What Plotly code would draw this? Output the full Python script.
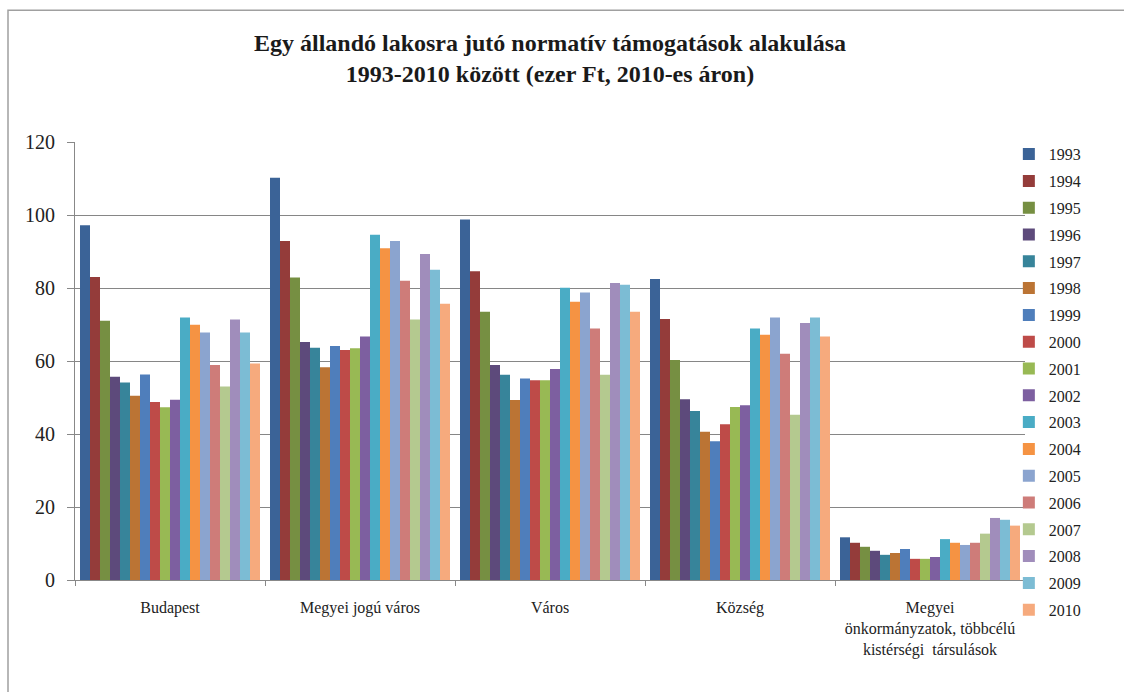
import plotly.graph_objects as go

categories = [
    "Budapest",
    "Megyei jogú város",
    "Város",
    "Község",
    "Megyei<br>önkormányzatok, többcélú<br>kistérségi  társulások",
]

years = [str(y) for y in range(1993, 2011)]

# values per year, in category order
values = {
    "1993": [97.2, 110.2, 98.8, 82.5, 11.7],
    "1994": [83.0, 92.9, 84.6, 71.5, 10.2],
    "1995": [71.0, 82.9, 73.5, 60.3, 9.1],
    "1996": [55.7, 65.2, 58.9, 49.5, 8.0],
    "1997": [54.1, 63.6, 56.2, 46.3, 6.9],
    "1998": [50.5, 58.3, 49.3, 40.6, 7.4],
    "1999": [56.3, 64.1, 55.2, 38.0, 8.5],
    "2000": [48.8, 63.0, 54.7, 42.7, 5.8],
    "2001": [47.3, 63.5, 54.7, 47.4, 5.8],
    "2002": [49.4, 66.7, 57.8, 47.9, 6.3],
    "2003": [71.9, 94.6, 80.1, 68.9, 11.2],
    "2004": [69.9, 90.9, 76.2, 67.2, 10.2],
    "2005": [67.8, 92.9, 78.8, 71.9, 9.6],
    "2006": [58.9, 82.0, 68.9, 62.0, 10.2],
    "2007": [53.0, 71.4, 56.2, 45.3, 12.7],
    "2008": [71.4, 89.3, 81.4, 70.4, 17.0],
    "2009": [67.8, 85.0, 80.9, 71.9, 16.5],
    "2010": [59.3, 75.7, 73.5, 66.7, 14.9],
}

colors = [
    "#3B6397", "#943C3A", "#768F42", "#5D4A7B", "#37849A", "#BB7434",
    "#4F7EBB", "#BE4B48", "#98B954", "#7D5FA0", "#4AACC5", "#F59343",
    "#8BA4CF", "#CE7C79", "#B4C98F", "#A08DBB", "#7CBCD4", "#F6AA7D",
]

serif = "Liberation Serif, Times New Roman, serif"

# plot area 950 px wide -> 190 px per category; a 10 px gap leaves
# 180 px for 18 bars, so each bar is exactly 10 px and edges sit on whole pixels
PLOT_L, PLOT_W = 75, 950
CAT_W = PLOT_W / len(categories)
GROUP_GAP_PX = 10

fig = go.Figure()
for i, yr in enumerate(years):
    fig.add_trace(go.Bar(
        name=yr,
        x=categories,
        y=values[yr],
        marker=dict(color=colors[i], line=dict(width=0)),
        legendgroup=yr,
    ))

fig.update_layout(
    template="none",
    width=1124,
    height=692,
    barmode="group",
    bargap=GROUP_GAP_PX / CAT_W,
    bargroupgap=0,
    paper_bgcolor="white",
    plot_bgcolor="white",
    margin=dict(l=PLOT_L, r=1124 - PLOT_L - PLOT_W, t=142, b=112),
    font=dict(family=serif, color="#222222"),
    title=dict(
        text="<b>Egy állandó lakosra jutó normatív támogatások alakulása<br>1993-2010 között (ezer Ft, 2010-es áron)</b>",
        x=0.5, xref="paper", xanchor="center",
        y=1 - 51 / 692, yref="container", yanchor="middle",
        font=dict(family=serif, size=24, color="#1a1a1a"),
    ),
    legend=dict(
        x=0.983, xanchor="left", y=1.011, yanchor="top",
        font=dict(family=serif, size=16, color="#222222"),
        tracegroupgap=3,
        itemwidth=30,
        maxheight=600,
        bgcolor="rgba(0,0,0,0)",
    ),
    showlegend=True,
    xaxis=dict(
        showline=True, linecolor="#888888", linewidth=1,
        ticks="outside", tickson="boundaries", ticklen=5, tickcolor="#888888",
        tickfont=dict(family=serif, size=16, color="#222222"),
        ticklabelstandoff=13,
        showgrid=False,
        fixedrange=True,
    ),
    yaxis=dict(
        range=[0, 120], dtick=20,
        showline=True, linecolor="#888888", linewidth=1,
        ticks="outside", ticklen=7, tickcolor="#888888",
        showgrid=True, gridcolor="#868686", gridwidth=1,
        tickfont=dict(family=serif, size=20, color="#222222"),
        ticklabelstandoff=8,
        zeroline=False,
    ),
    shapes=[
        dict(type="rect", xref="paper", yref="paper",
             x0=(8 - PLOT_L) / PLOT_W, x1=1.2, y0=-0.4, y1=1.301,
             line=dict(color="#a0a0a0", width=1.5), fillcolor="rgba(0,0,0,0)",
             layer="below"),
    ],
)

fig.write_html("out.html")
